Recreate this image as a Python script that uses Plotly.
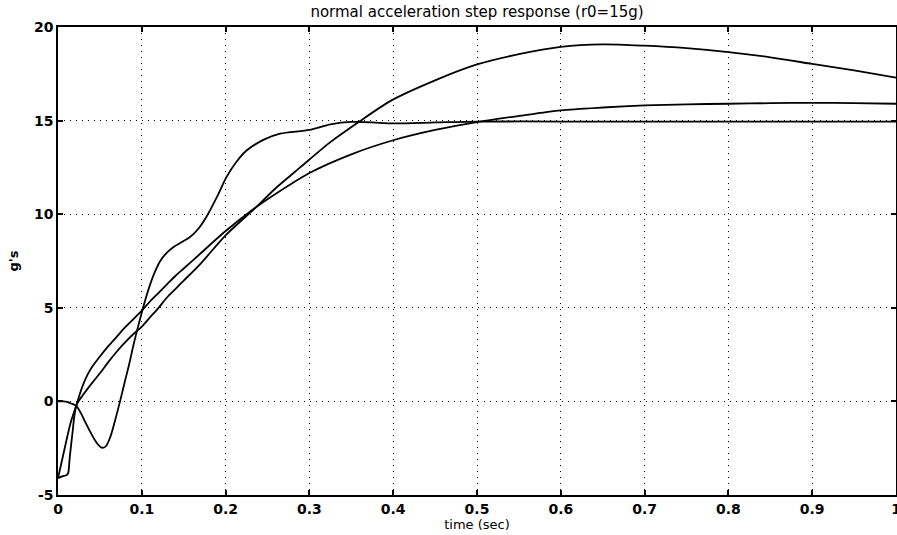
import plotly.graph_objects as go

# Curve A: overshooting response (peak ~19 g)
t_a = [0, 0.005, 0.010, 0.012, 0.014, 0.017, 0.022, 0.03, 0.04, 0.05, 0.06, 0.07, 0.08, 0.09,
       0.10, 0.11, 0.12, 0.13, 0.14, 0.15, 0.17, 0.20, 0.237, 0.26, 0.289, 0.325, 0.358, 0.398,
       0.45, 0.50, 0.55, 0.60, 0.65, 0.70, 0.75, 0.80, 0.85, 0.90, 0.95, 1.0]
v_a = [-4.1, -4.0, -3.95, -3.85, -3.0, -1.8, -0.2, 0.35, 0.95, 1.5, 2.1, 2.65, 3.15, 3.6,
       4.0, 4.5, 5.0, 5.55, 6.0, 6.45, 7.35, 8.87, 10.4, 11.4, 12.5, 13.85, 14.9, 16.08,
       17.15, 18.0, 18.55, 18.94, 19.07, 19.0, 18.87, 18.66, 18.38, 18.03, 17.68, 17.3]

# Curve B: slow monotone response (~15.9 g)
t_b = [0, 0.004, 0.008, 0.012, 0.016, 0.022, 0.026, 0.03, 0.035, 0.04, 0.05, 0.06, 0.07, 0.08,
       0.09, 0.10, 0.11, 0.12, 0.13, 0.14, 0.15, 0.17, 0.20, 0.237, 0.25, 0.30, 0.35, 0.40,
       0.45, 0.50, 0.55, 0.60, 0.65, 0.70, 0.75, 0.80, 0.85, 0.90, 0.95, 1.0]
v_b = [-4.1, -3.3, -2.5, -1.7, -1.0, -0.2, 0.4, 0.9, 1.4, 1.8, 2.4, 2.95, 3.45, 3.95,
       4.4, 4.85, 5.35, 5.8, 6.25, 6.7, 7.1, 7.9, 9.1, 10.4, 10.8, 12.2, 13.2, 13.95,
       14.5, 14.92, 15.25, 15.55, 15.7, 15.81, 15.87, 15.9, 15.93, 15.95, 15.93, 15.9]

# Curve C: non-minimum-phase response settling at ~15 g
t_c = [0, 0.006, 0.011, 0.015, 0.019, 0.022, 0.027, 0.033, 0.04, 0.046, 0.052, 0.057, 0.062,
       0.067, 0.074, 0.08, 0.085, 0.09, 0.095, 0.10, 0.105, 0.11, 0.115, 0.122, 0.13, 0.138,
       0.1575, 0.168, 0.177, 0.19, 0.201, 0.213, 0.225, 0.245, 0.265, 0.30, 0.325, 0.35,
       0.375, 0.40, 0.45, 0.50, 0.60, 0.70, 0.80, 0.90, 1.0]
v_c = [0, 0, -0.03, -0.1, -0.17, -0.25, -0.6, -1.15, -1.75, -2.2, -2.47, -2.4, -1.95,
       -1.2, 0, 1.1, 2.0, 3.0, 3.9, 4.75, 5.55, 6.25, 6.85, 7.5, 7.95, 8.25,
       8.78, 9.25, 9.85, 10.95, 11.98, 12.8, 13.4, 13.97, 14.3, 14.5, 14.8, 14.93,
       14.9, 14.85, 14.9, 14.95, 14.95, 14.95, 14.95, 14.95, 14.95]

x_ticks = [0, 0.1, 0.2, 0.3, 0.4, 0.5, 0.6, 0.7, 0.8, 0.9, 1.0]
x_labels = ["0", "0.1", "0.2", "0.3", "0.4", "0.5", "0.6", "0.7", "0.8", "0.9", "1"]
y_ticks = [-5, 0, 5, 10, 15, 20]
y_labels = ["-5", "0", "5", "10", "15", "20"]

fig = go.Figure()
for tt, vv in [(t_a, v_a), (t_b, v_b), (t_c, v_c)]:
    fig.add_trace(go.Scatter(x=tt, y=vv, mode="lines",
                             line=dict(color="black", width=1.8, shape="spline", smoothing=0.8),
                             showlegend=False, hoverinfo="skip"))

axis_common = dict(
    showline=True, linecolor="black", linewidth=1.5, mirror="ticks",
    ticks="inside", ticklen=5, tickcolor="black", tickwidth=1.5,
    showgrid=True, gridcolor="black", gridwidth=1, griddash="1px,5px",
    zeroline=False, ticklabeloverflow="allow", automargin=False,
    tickfont=dict(family="DejaVu Sans", size=14, color="black", weight="bold"),
)

fig.update_xaxes(range=[0, 1], tickvals=x_ticks, ticktext=x_labels,
                 title=dict(text="time (sec)", standoff=3,
                            font=dict(family="DejaVu Sans", size=13, color="black")),
                 **axis_common)
fig.update_yaxes(range=[-5, 20], tickvals=y_ticks, ticktext=y_labels,
                 title=dict(text="g's", standoff=12,
                            font=dict(family="DejaVu Sans", size=13, color="black", weight="bold")),
                 **axis_common)

fig.update_layout(
    width=897, height=535,
    margin=dict(l=58, r=1, t=27, b=40),
    paper_bgcolor="white", plot_bgcolor="white",
    title=dict(text="normal acceleration step response (r0=15g)",
               x=0.5318, xanchor="center", y=1 - 12 / 535, yanchor="middle", yref="container",
               font=dict(family="DejaVu Sans", size=15, color="black")),
)

fig.write_html("out.html")
